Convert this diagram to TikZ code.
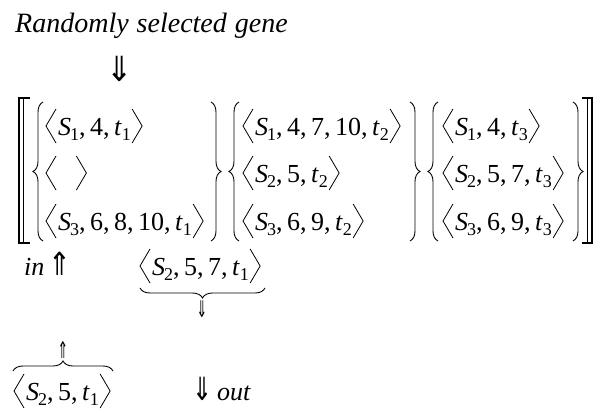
\documentclass[tikz,border=0pt]{standalone}
\usepackage{fontspec}
\setmainfont{Liberation Serif}
\newfontfamily\arrfont{DejaVu Sans}
\usetikzlibrary{calc,decorations.pathreplacing}
\tikzset{
  tx/.style={inner sep=0pt, font=\fontsize{26}{30}\selectfont},
  ttl/.style={inner sep=0pt, font=\fontsize{28}{32}\selectfont\itshape},
  arrbig/.style={inner sep=0pt, font=\fontsize{33}{38}\arrfont},
  arrmid/.style={inner sep=0pt, font=\fontsize{32}{36}\arrfont},
  arrsmall/.style={inner sep=0pt, font=\fontsize{23}{26}\arrfont},
  ang/.style={line width=0.8pt, line join=miter},
  brc/.style={decorate, decoration={brace, amplitude=10pt}, line width=0.9pt},
  bk/.style={line width=1.2pt}
}
\newcommand\subn[1]{\raisebox{-5pt}{\fontsize{18}{18}\selectfont #1}}
\newcommand\Sv[1]{\textit{S}\kern-1pt\subn{#1}}
\newcommand\tv[1]{\textit{t}\subn{#1}}
\newcommand\cm{,\hspace{4.5pt}}
\newcommand\tup[4]{%
  \node[tx, anchor=base west] (#1) at ({#2+12},#3) {#4};
  \draw[ang] ({#2+10},{#3-26}) -- (#2,{#3-9}) -- ({#2+10},{#3+8});
  \draw[ang] ($(#1.base east)+(1,-26)$) -- ($(#1.base east)+(11,-9)$) -- ($(#1.base east)+(1,8)$);
}
\begin{document}
\begin{tikzpicture}[x=1pt,y=-1pt]
\useasboundingbox (0,0) rectangle (595,410);
% title
\node[ttl, anchor=base west] (title) at (15,32) {Randomly\hspace{8pt}selected\hspace{8pt}gene};
\node[arrbig] (d1) at (120,69) {\scalebox{0.95}[1.05]{⇓}};
% outer double brackets
\draw[bk] (30,98) -- (19,98) -- (19,243) -- (30,243);
\draw[bk] (23.5,98) -- (23.5,243);
\draw[bk] (582,98) -- (592,98) -- (592,243) -- (582,243);
\draw[bk] (587.5,98) -- (587.5,243);
% braces
\draw[brc] (43,241) -- (43,102);
\draw[brc] (211,102) -- (211,241);
\draw[brc] (239,241) -- (239,102);
\draw[brc] (410,102) -- (410,241);
\draw[brc] (438,241) -- (438,102);
\draw[brc] (573,102) -- (573,241);
% group 1
\tup{a1}{46}{135}{\Sv{1}\cm 4\cm \tv{1}}
\tup{a2}{46}{182}{\rule{0pt}{1pt}\rule{17pt}{0pt}}
\tup{a3}{46}{230}{\Sv{3}\cm 6\cm 8\cm 10\cm \tv{1}}
% group 2
\tup{b1}{243}{135}{\Sv{1}\cm 4\cm 7\cm 10\cm \tv{2}}
\tup{b2}{243}{182}{\Sv{2}\cm 5\cm \tv{2}}
\tup{b3}{243}{230}{\Sv{3}\cm 6\cm 9\cm \tv{2}}
% group 3
\tup{c1}{443}{135}{\Sv{1}\cm 4\cm \tv{3}}
\tup{c2}{443}{182}{\Sv{2}\cm 5\cm 7\cm \tv{3}}
\tup{c3}{443}{230}{\Sv{3}\cm 6\cm 9\cm \tv{3}}
% in
\node[tx, anchor=base west] (in) at (24,275) {\textit{in}};
\node[arrmid, anchor=base west] (u1) at (48,275) {\scalebox{0.85}[1]{⇑}};
\tup{mid}{140}{275}{\Sv{2}\cm 5\cm 7\cm \tv{1}}
\draw[brc] (265,288) -- (140,288);
\node[arrsmall] (d2) at (202,309) {\scalebox{0.55}[1]{⇓}};
% bottom
\node[arrsmall] (u2) at (63,350) {\scalebox{0.55}[1]{⇑}};
\draw[brc] (13,371) -- (113,371);
\tup{fin}{14}{400}{\Sv{2}\cm 5\cm \tv{1}}
\node[arrmid, anchor=base west] (d3) at (192,400) {\scalebox{0.75}[1]{⇓}};
\node[tx, anchor=base west] (out) at (217,400) {\textit{out}};
\end{tikzpicture}
\end{document}
